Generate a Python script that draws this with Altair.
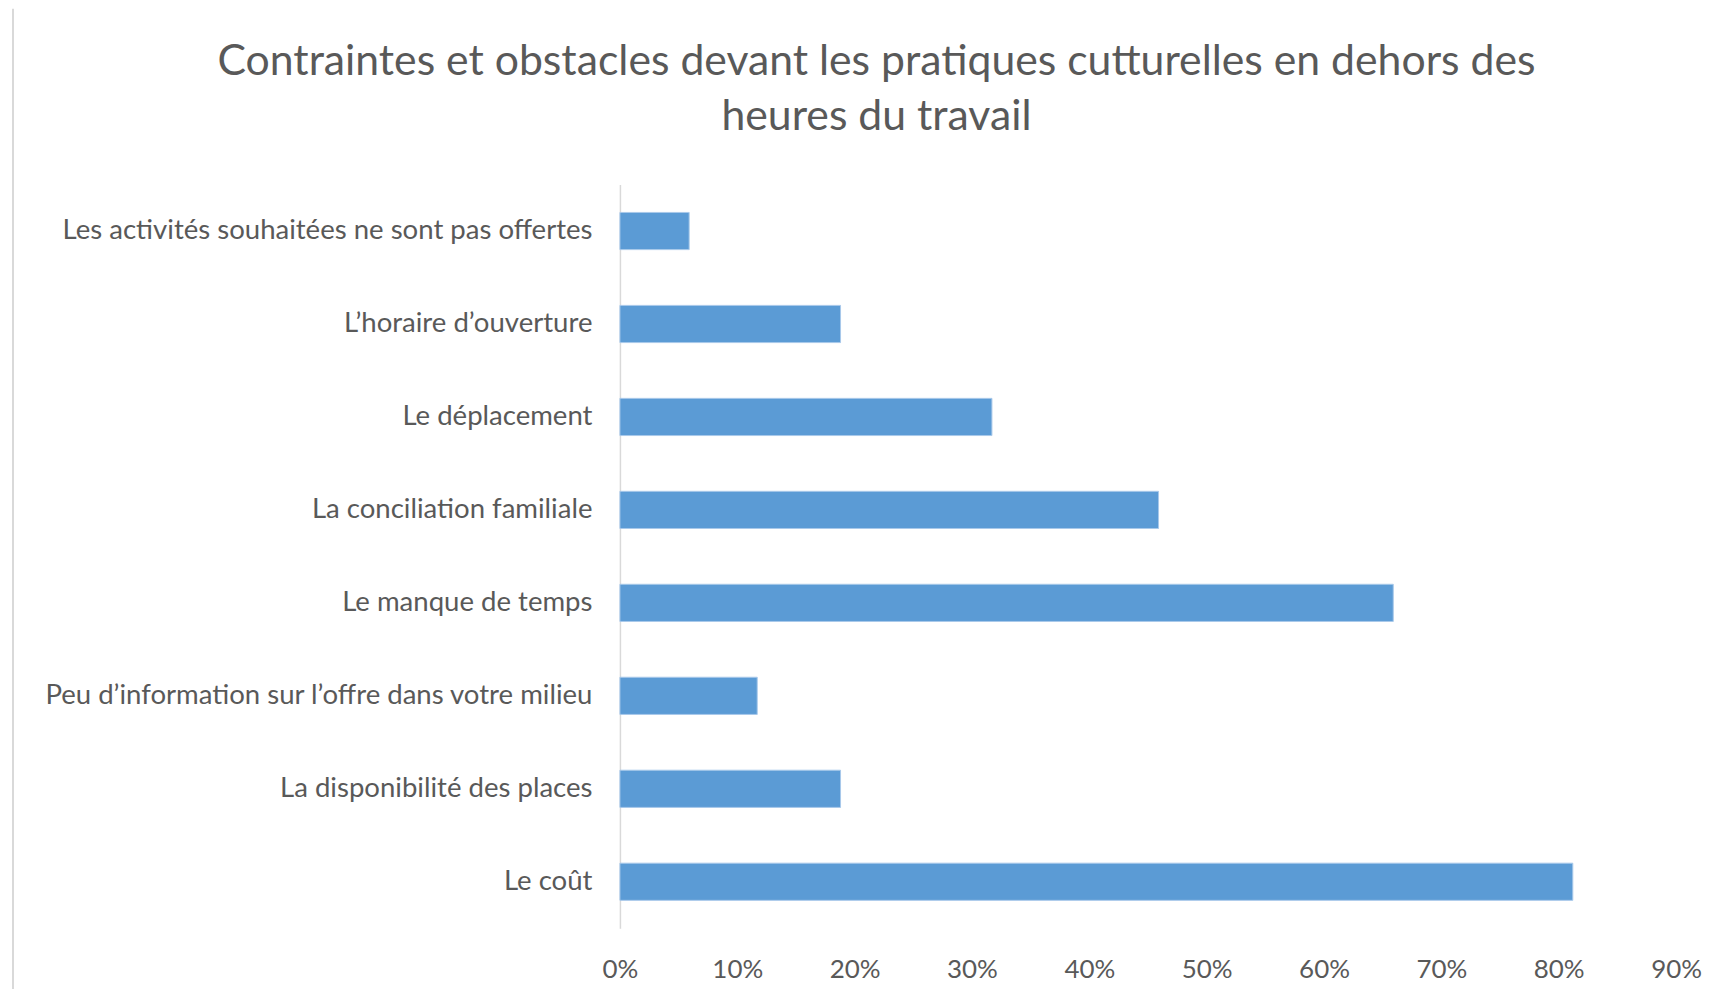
import altair as alt
import pandas as pd

categories = [
    "Les activités souhaitées ne sont pas offertes",
    "L’horaire d’ouverture",
    "Le déplacement",
    "La conciliation familiale",
    "Le manque de temps",
    "Peu d’information sur l’offre dans votre milieu",
    "La disponibilité des places",
    "Le coût",
]
values = [0.059, 0.188, 0.317, 0.459, 0.659, 0.117, 0.188, 0.812]
tick_values = [0, 0.1, 0.2, 0.3, 0.4, 0.5, 0.6, 0.7, 0.8, 0.9]

df = pd.DataFrame({"categorie": categories, "valeur": values})

FONT = "Lato"
GREY = "#595959"

bars = alt.Chart(df).mark_bar(
    color="#5B9BD5", stroke="#A9C9EA", strokeWidth=1
).encode(
    x=alt.X(
        "valeur:Q",
        scale=alt.Scale(domain=[0, 0.9], nice=False),
        axis=alt.Axis(
            values=tick_values,
            format=".0%",
            title=None,
            grid=False,
            domain=False,
            ticks=False,
            labelFlush=False,
            labelFont=FONT,
            labelFontSize=26,
            labelColor=GREY,
            labelPadding=28,
        ),
    ),
    y=alt.Y(
        "categorie:N",
        sort=categories,
        scale=alt.Scale(paddingInner=0.6, paddingOuter=0.3),
        axis=alt.Axis(
            title=None,
            ticks=False,
            domain=True,
            domainColor="#D9D9D9",
            domainWidth=1.5,
            labelFont=FONT,
            labelFontSize=27.6,
            labelColor=GREY,
            labelPadding=28,
            labelLimit=800,
        ),
    ),
)

frame_df = pd.DataFrame({"k": [0]})
frame = alt.Chart(frame_df).mark_rule(color="#D9D9D9", strokeWidth=2).encode(
    x=alt.value(-608), y=alt.value(-176), y2=alt.value(820)
)

chart = alt.layer(frame, bars).properties(
    width=1058,
    height=745,
    title=alt.TitleParams(
        text=[
            "Contraintes et obstacles devant les pratiques cutturelles en dehors des",
            "heures du travail",
        ],
        font=FONT,
        fontSize=42.8,
        fontWeight="normal",
        color=GREY,
        anchor="middle",
        frame="group",
        dx=-272,
        dy=131,
        offset=0,
        lineHeight=55,
    ),
    autosize=alt.AutoSizeParams(type="none"),
    padding={"left": 613, "top": 176, "right": 40, "bottom": 60},
).configure_view(stroke=None)

chart.save("out.html", embed_options={"renderer": "svg", "actions": False})
